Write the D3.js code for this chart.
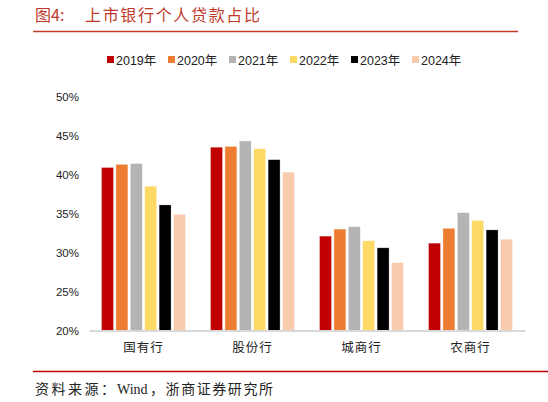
<!DOCTYPE html>
<html><head><meta charset="utf-8">
<script src="https://cdn.jsdelivr.net/npm/d3@7"></script>
<style>
body{margin:0;background:#fff;}
svg{display:block;}
</style></head>
<body>
<svg id="c" width="548" height="402"></svg>
<script>
const titleNo = "图4:";
const title = "上市银行个人贷款占比";
const sourceParts = ["资料来源：", "Wind", "，浙商证券研究所"];
const categories = ["国有行","股份行","城商行","农商行"];
const years = ["2019年","2020年","2021年","2022年","2023年","2024年"];
const colors = ["#C00000","#ED7D31","#B4B4B4","#FFD966","#000000","#F8CBAD"];
const v2019 = [40.9, 43.5, 32.1, 31.2];
const v2020 = [41.3, 43.6, 33.0, 33.1];
const v2021 = [41.4, 44.3, 33.3, 35.1];
const v2022 = [38.5, 43.3, 31.5, 34.1];
const v2023 = [36.1, 41.9, 30.6, 32.9];
const v2024 = [34.9, 40.3, 28.7, 31.7];
const series = [v2019, v2020, v2021, v2022, v2023, v2024];
const yTicks = [20, 25, 30, 35, 40, 45, 50];

const svg = d3.select("#c");
const sans = "'Liberation Sans', Arial, 'Noto Sans CJK SC', sans-serif";
const cjk = "'Noto Sans CJK SC', sans-serif";
const serif = "'Liberation Serif', 'Noto Sans CJK SC', serif";

// title
svg.append("text").attr("x", 35).attr("y", 21).attr("fill", "#C0392B")
  .attr("font-family", cjk).attr("font-size", 16).text(titleNo);
svg.append("text").attr("x", 85).attr("y", 21).attr("fill", "#C0392B")
  .attr("font-family", cjk).attr("font-size", 16)
  .attr("textLength", 175).attr("lengthAdjust", "spacing").text(title);
svg.append("line").attr("x1", 33).attr("x2", 518).attr("y1", 31.5).attr("y2", 31.5)
  .attr("stroke", "#C0392B").attr("stroke-width", 1.3);

// footer
svg.append("line").attr("x1", 33).attr("x2", 548).attr("y1", 371.5).attr("y2", 371.5)
  .attr("stroke", "#C00000").attr("stroke-width", 1.3);
const ft = svg.append("text").attr("y", 394).attr("fill", "#222")
  .attr("font-family", serif).attr("font-size", 14);
ft.append("tspan").attr("x", 35).attr("textLength", 80).attr("lengthAdjust", "spacing").text(sourceParts[0]);
ft.append("tspan").attr("x", 117).text(sourceParts[1]);
ft.append("tspan").attr("x", 150).attr("textLength", 123).attr("lengthAdjust", "spacing").text(sourceParts[2]);

// scales
const x0 = d3.scaleBand().domain(categories).range([89, 525]).paddingInner(0.23).paddingOuter(0.115);
const x1 = d3.scaleBand().domain(years).range([0, x0.bandwidth()]).paddingInner(0.17).paddingOuter(0);
const y = d3.scaleLinear().domain([20, 50]).range([330.5, 96.5]);

// y axis labels
const yAxis = d3.axisLeft(y).tickValues(yTicks).tickFormat(d => d + "%").tickSize(0).tickPadding(0);
const gy = svg.append("g").attr("transform", "translate(79,0)").call(yAxis);
gy.select(".domain").remove();
gy.selectAll("text").attr("font-family", sans).attr("font-size", 11.5).attr("fill", "#222");

// bars
const g = svg.append("g");
categories.forEach((c, ci) => {
  years.forEach((yr, si) => {
    const val = series[si][ci];
    g.append("rect")
      .attr("x", x0(c) + x1(yr))
      .attr("y", y(val))
      .attr("width", x1.bandwidth())
      .attr("height", y(20) - y(val))
      .attr("fill", colors[si])
      .attr("stroke", "#fff").attr("stroke-opacity", 0.5).attr("stroke-width", 0.6);
  });
});

// x axis
const xAxis = d3.axisBottom(x0).tickSize(0).tickPadding(13);
const gx = svg.append("g").attr("transform", `translate(0,${y(20)})`).call(xAxis);
gx.select(".domain").attr("stroke", "#D9D9D9").attr("stroke-width", 2);
gx.selectAll("text").attr("font-family", cjk).attr("font-size", 12.5).attr("fill", "#222")
  .attr("letter-spacing", 1);

// legend
const lg = svg.append("g");
const legendX = d3.scalePoint().domain(years).range([107, 412]);
years.forEach((yr, i) => {
  const lx = legendX(yr);
  lg.append("rect").attr("x", lx).attr("y", 56).attr("width", 7).attr("height", 7).attr("fill", colors[i]);
  lg.append("text").attr("x", lx + 9).attr("y", 64.5).attr("font-family", sans).attr("font-size", 12.5)
    .attr("fill", "#222").text(yr);
});
</script>
</body></html>
